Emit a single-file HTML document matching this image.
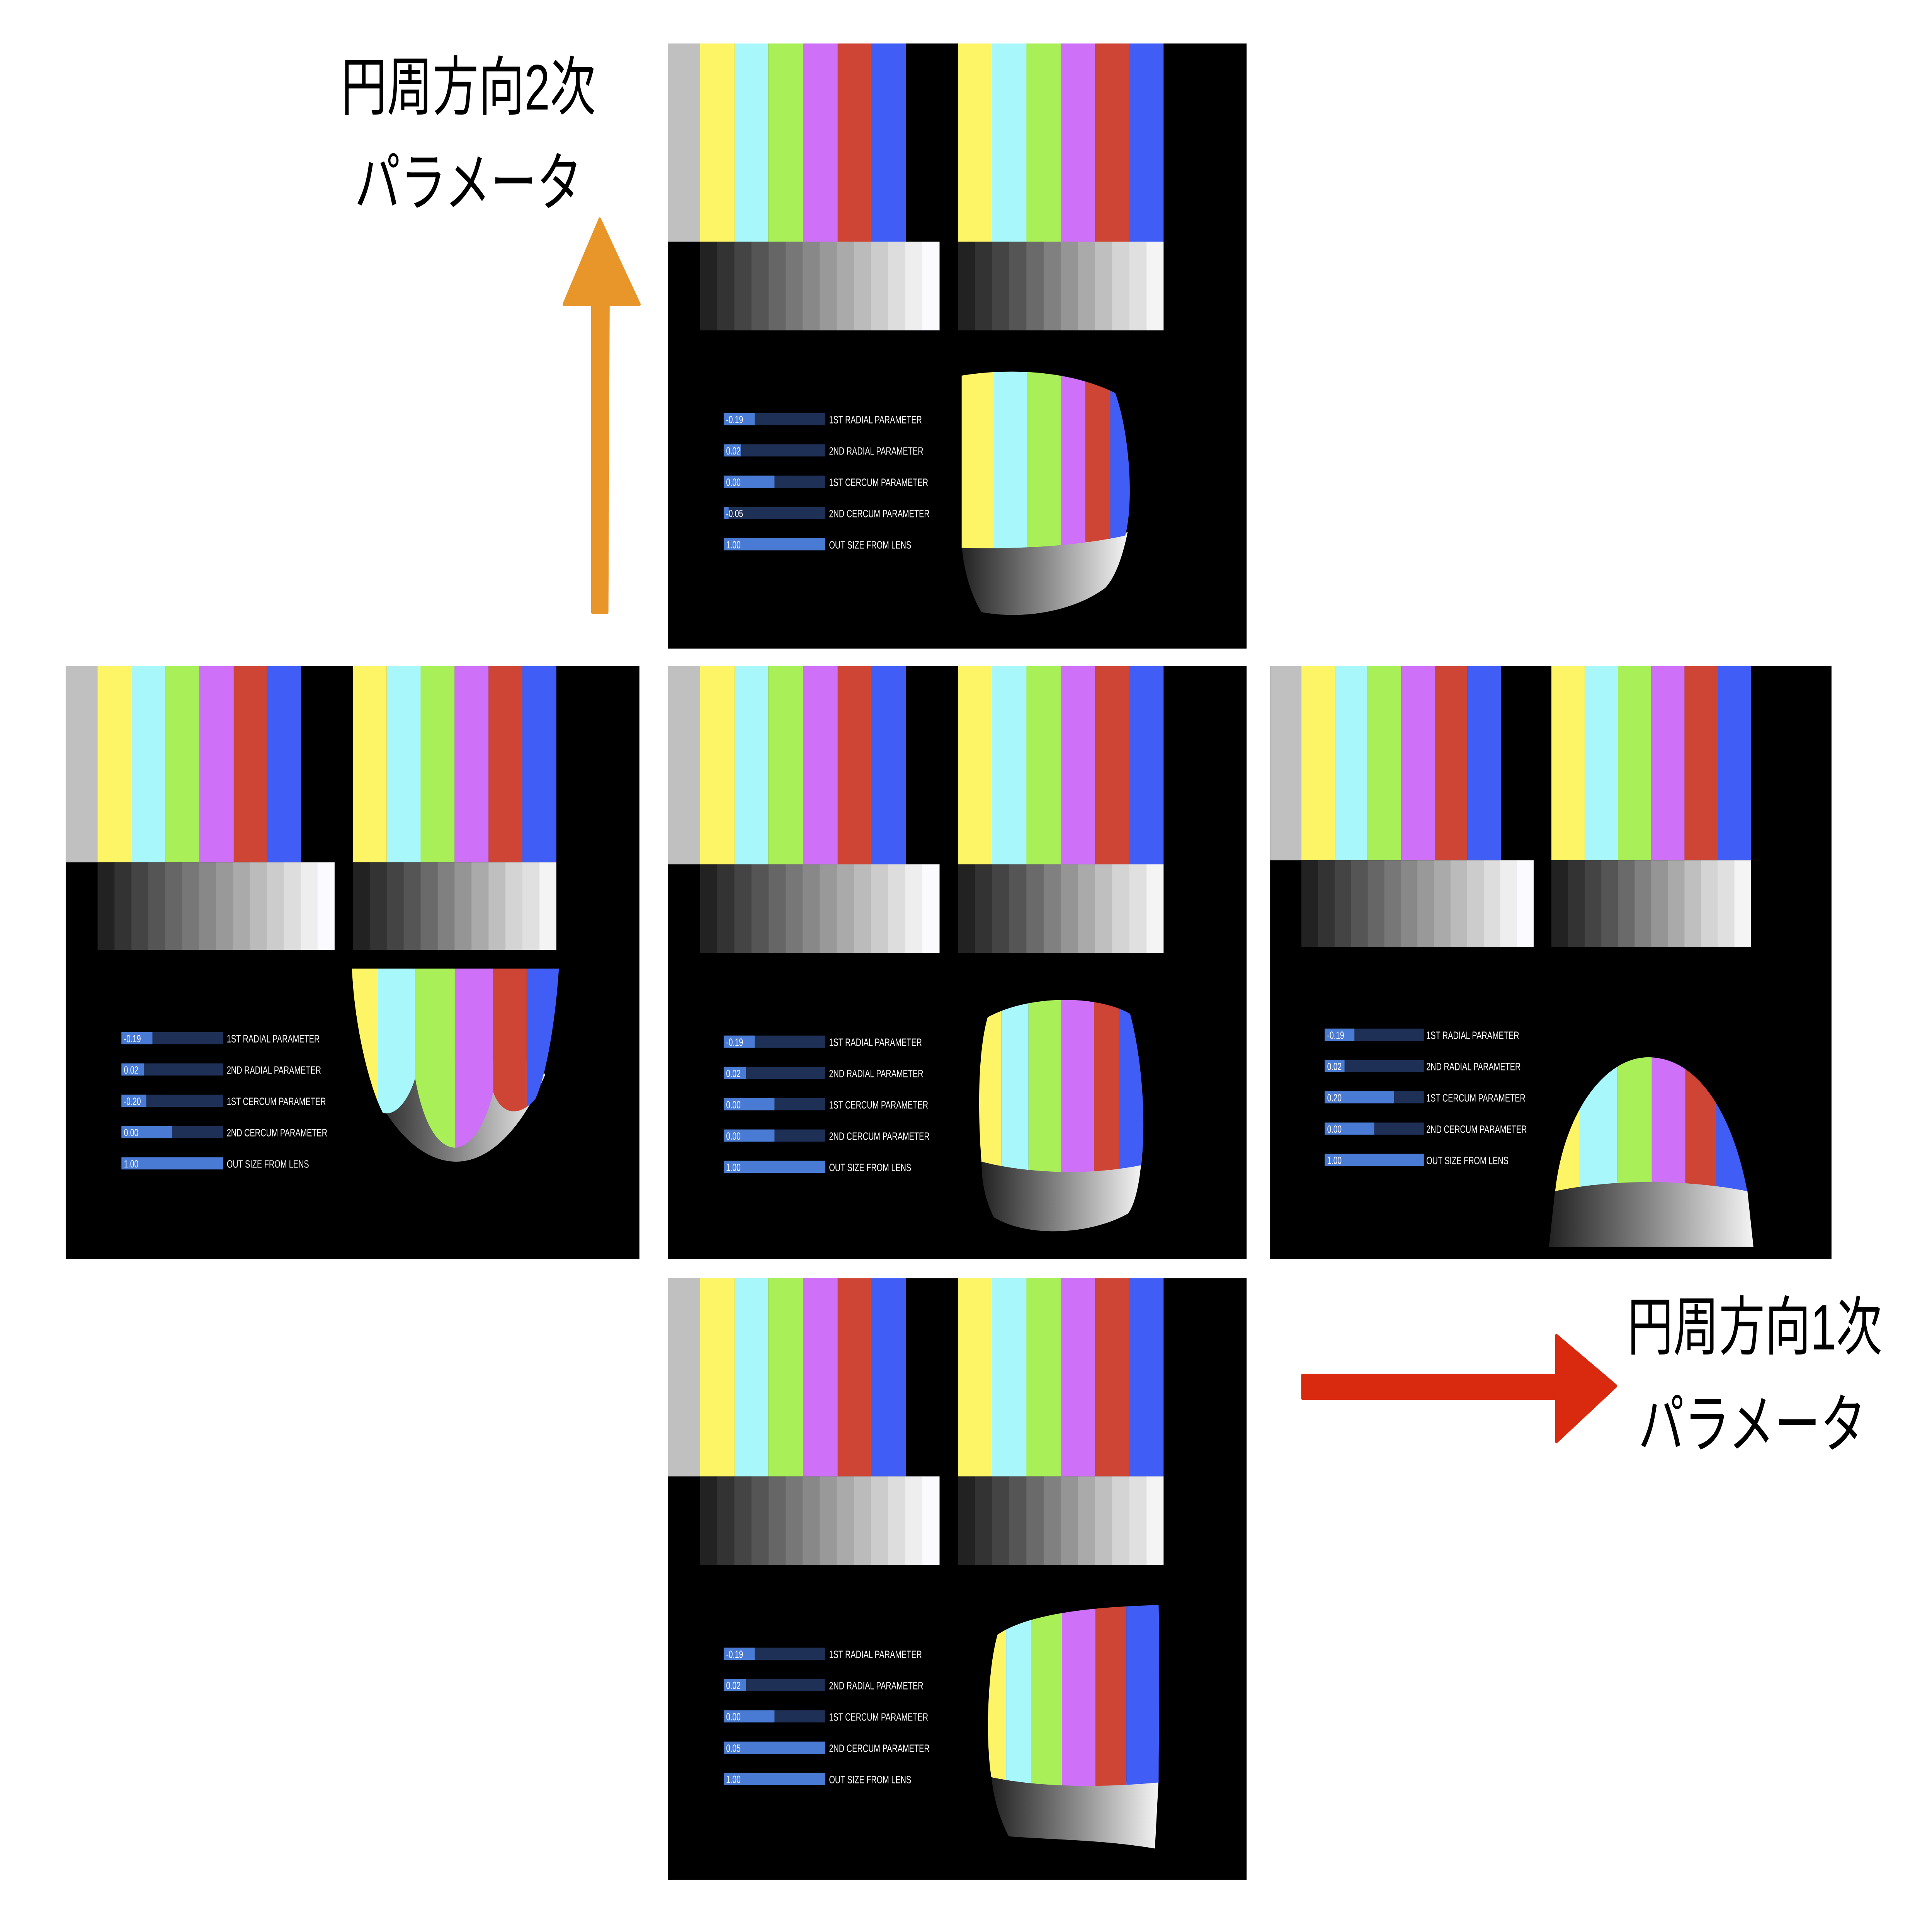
<!DOCTYPE html>
<html><head><meta charset="utf-8"><style>
html,body{margin:0;padding:0;background:#fff;overflow:hidden;width:100vw;height:100vh;}
svg{display:block;width:100vw;height:100vh;}
.v{font-family:"Liberation Sans Narrow","Liberation Sans",sans-serif;font-size:6px;fill:#fff;}
.l{font-family:"Liberation Sans Narrow","Liberation Sans",sans-serif;font-size:6.2px;fill:#fff;}
.jp{font-family:"Liberation Sans","Noto Sans CJK JP",sans-serif;font-size:37px;fill:#000;}
</style></head><body>
<svg viewBox="0 0 1559.1 1101.8" preserveAspectRatio="none" xmlns="http://www.w3.org/2000/svg">
<defs>
<g id="charts">
<rect x="0" y="0" width="26" height="114" fill="#c0c0c0"/>
<rect x="26" y="0" width="28" height="114" fill="#fdf566"/>
<rect x="54" y="0" width="27" height="114" fill="#a8f8fb"/>
<rect x="81" y="0" width="28" height="114" fill="#a9ef57"/>
<rect x="109" y="0" width="28" height="114" fill="#ce70f8"/>
<rect x="137" y="0" width="27" height="114" fill="#cf4535"/>
<rect x="164" y="0" width="28" height="114" fill="#405ef6"/>
<rect x="26" y="114" width="14" height="51" fill="#222"/>
<rect x="39.8" y="114" width="14" height="51" fill="#333"/>
<rect x="53.6" y="114" width="14" height="51" fill="#444"/>
<rect x="67.4" y="114" width="14" height="51" fill="#555"/>
<rect x="81.2" y="114" width="14" height="51" fill="#666"/>
<rect x="95" y="114" width="14" height="51" fill="#777"/>
<rect x="108.7" y="114" width="14" height="51" fill="#888"/>
<rect x="122.5" y="114" width="14" height="51" fill="#999"/>
<rect x="136.3" y="114" width="14" height="51" fill="#aaa"/>
<rect x="150.1" y="114" width="14" height="51" fill="#bbb"/>
<rect x="163.9" y="114" width="14" height="51" fill="#ccc"/>
<rect x="177.7" y="114" width="14" height="51" fill="#ddd"/>
<rect x="191.5" y="114" width="14" height="51" fill="#eee"/>
<rect x="205.3" y="114" width="13.9" height="51" fill="#fafaff"/>
<rect x="234" y="0" width="27.7" height="114" fill="#fdf566"/>
<rect x="261.7" y="0" width="27.7" height="114" fill="#a8f8fb"/>
<rect x="289.3" y="0" width="27.7" height="114" fill="#a9ef57"/>
<rect x="317" y="0" width="27.7" height="114" fill="#ce70f8"/>
<rect x="344.7" y="0" width="27.7" height="114" fill="#cf4535"/>
<rect x="372.3" y="0" width="27.7" height="114" fill="#405ef6"/>
<rect x="234" y="114" width="14" height="51" fill="#222"/>
<rect x="247.8" y="114" width="14" height="51" fill="#333"/>
<rect x="261.7" y="114" width="14" height="51" fill="#444"/>
<rect x="275.5" y="114" width="14" height="51" fill="#555"/>
<rect x="289.3" y="114" width="14" height="51" fill="#6a6a6a"/>
<rect x="303.2" y="114" width="14" height="51" fill="#808080"/>
<rect x="317" y="114" width="14" height="51" fill="#959595"/>
<rect x="330.8" y="114" width="14" height="51" fill="#aaa"/>
<rect x="344.7" y="114" width="14" height="51" fill="#bfbfbf"/>
<rect x="358.5" y="114" width="14" height="51" fill="#d4d4d4"/>
<rect x="372.3" y="114" width="14" height="51" fill="#e0e0e0"/>
<rect x="386.2" y="114" width="13.8" height="51" fill="#f4f4f4"/>
</g>
<linearGradient id="gg" x1="0" x2="1" y1="0" y2="0">
<stop offset="0" stop-color="#222"/><stop offset="0.5" stop-color="#888"/><stop offset="1" stop-color="#f4f4f4"/>
</linearGradient>
<clipPath id="cT"><path d="M776,216 C810,212 860,212 900,226 C912,250 915,290 908,308 C870,314 820,316 776,315 Z"/></clipPath>
<clipPath id="cC"><path d="M797,585 C830,572 885,572 912,583 C922,610 925,645 921,670 C880,676 830,675 792,668 C789,640 789,605 797,585 Z"/></clipPath>
<clipPath id="cL"><path d="M284,557 L451,557 C448,590 440,620 432,632 C420,642 405,642 398,628 C394,640 385,658 368,660 C350,660 340,640 335,620 C330,632 320,642 309,640 C298,625 286,590 284,557 Z"/></clipPath>
<clipPath id="cR"><path d="M1255,685 C1262,640 1295,608 1330,608 C1370,608 1398,640 1410,685 C1360,678 1300,678 1255,685 Z"/></clipPath>
<clipPath id="cB"><path d="M805,940 C830,928 880,924 935,923 C936,960 935,1000 935,1025 C890,1028 840,1028 800,1022 C795,1000 797,960 805,940 Z"/></clipPath>
</defs>

<rect x="0" y="0" width="1559.1" height="1101.8" fill="#fff"/>
<rect x="539" y="25" width="467" height="348" fill="#000"/>
<rect x="53" y="383" width="463" height="341" fill="#000"/>
<rect x="539" y="383" width="467" height="341" fill="#000"/>
<rect x="1025" y="383" width="453" height="341" fill="#000"/>
<rect x="539" y="735" width="467" height="346" fill="#000"/>

<use href="#charts" transform="translate(539,25)"/>
<use href="#charts" transform="translate(53,383) scale(0.99,0.99)"/>
<use href="#charts" transform="translate(539,383)"/>
<use href="#charts" transform="translate(1025,383) scale(0.97,0.98)"/>
<use href="#charts" transform="translate(539,735)"/>

<g transform="translate(539,25)">
<rect x="45" y="212.5" width="82" height="7" fill="#1f3057"/><rect x="45" y="212.5" width="25" height="7" fill="#4a7bd4"/><text class="v" x="47" y="218.3">-0.19</text><text class="l" x="130" y="218.5">1ST RADIAL PARAMETER</text>
<rect x="45" y="230.5" width="82" height="7" fill="#1f3057"/><rect x="45" y="230.5" width="14" height="7" fill="#4a7bd4"/><text class="v" x="47" y="236.3">0.02</text><text class="l" x="130" y="236.5">2ND RADIAL PARAMETER</text>
<rect x="45" y="248.5" width="82" height="7" fill="#1f3057"/><rect x="45" y="248.5" width="41" height="7" fill="#4a7bd4"/><text class="v" x="47" y="254.3">0.00</text><text class="l" x="130" y="254.5">1ST CERCUM PARAMETER</text>
<rect x="45" y="266.5" width="82" height="7" fill="#1f3057"/><rect x="45" y="266.5" width="4" height="7" fill="#4a7bd4"/><text class="v" x="47" y="272.3">-0.05</text><text class="l" x="130" y="272.5">2ND CERCUM PARAMETER</text>
<rect x="45" y="284.5" width="82" height="7" fill="#4a7bd4"/><text class="v" x="47" y="290.3">1.00</text><text class="l" x="130" y="290.5">OUT SIZE FROM LENS</text>
</g>
<g transform="translate(53,381)">
<rect x="45" y="212.5" width="82" height="7" fill="#1f3057"/><rect x="45" y="212.5" width="25" height="7" fill="#4a7bd4"/><text class="v" x="47" y="218.3">-0.19</text><text class="l" x="130" y="218.5">1ST RADIAL PARAMETER</text>
<rect x="45" y="230.5" width="82" height="7" fill="#1f3057"/><rect x="45" y="230.5" width="18" height="7" fill="#4a7bd4"/><text class="v" x="47" y="236.3">0.02</text><text class="l" x="130" y="236.5">2ND RADIAL PARAMETER</text>
<rect x="45" y="248.5" width="82" height="7" fill="#1f3057"/><rect x="45" y="248.5" width="20" height="7" fill="#4a7bd4"/><text class="v" x="47" y="254.3">-0.20</text><text class="l" x="130" y="254.5">1ST CERCUM PARAMETER</text>
<rect x="45" y="266.5" width="82" height="7" fill="#1f3057"/><rect x="45" y="266.5" width="41" height="7" fill="#4a7bd4"/><text class="v" x="47" y="272.3">0.00</text><text class="l" x="130" y="272.5">2ND CERCUM PARAMETER</text>
<rect x="45" y="284.5" width="82" height="7" fill="#4a7bd4"/><text class="v" x="47" y="290.3">1.00</text><text class="l" x="130" y="290.5">OUT SIZE FROM LENS</text>
</g>
<g transform="translate(539,383)">
<rect x="45" y="212.5" width="82" height="7" fill="#1f3057"/><rect x="45" y="212.5" width="25" height="7" fill="#4a7bd4"/><text class="v" x="47" y="218.3">-0.19</text><text class="l" x="130" y="218.5">1ST RADIAL PARAMETER</text>
<rect x="45" y="230.5" width="82" height="7" fill="#1f3057"/><rect x="45" y="230.5" width="18" height="7" fill="#4a7bd4"/><text class="v" x="47" y="236.3">0.02</text><text class="l" x="130" y="236.5">2ND RADIAL PARAMETER</text>
<rect x="45" y="248.5" width="82" height="7" fill="#1f3057"/><rect x="45" y="248.5" width="41" height="7" fill="#4a7bd4"/><text class="v" x="47" y="254.3">0.00</text><text class="l" x="130" y="254.5">1ST CERCUM PARAMETER</text>
<rect x="45" y="266.5" width="82" height="7" fill="#1f3057"/><rect x="45" y="266.5" width="41" height="7" fill="#4a7bd4"/><text class="v" x="47" y="272.3">0.00</text><text class="l" x="130" y="272.5">2ND CERCUM PARAMETER</text>
<rect x="45" y="284.5" width="82" height="7" fill="#4a7bd4"/><text class="v" x="47" y="290.3">1.00</text><text class="l" x="130" y="290.5">OUT SIZE FROM LENS</text>
</g>
<g transform="translate(1024,379)">
<rect x="45" y="212.5" width="80" height="7" fill="#1f3057"/><rect x="45" y="212.5" width="24" height="7" fill="#4a7bd4"/><text class="v" x="47" y="218.3">-0.19</text><text class="l" x="127" y="218.5">1ST RADIAL PARAMETER</text>
<rect x="45" y="230.5" width="80" height="7" fill="#1f3057"/><rect x="45" y="230.5" width="16" height="7" fill="#4a7bd4"/><text class="v" x="47" y="236.3">0.02</text><text class="l" x="127" y="236.5">2ND RADIAL PARAMETER</text>
<rect x="45" y="248.5" width="80" height="7" fill="#1f3057"/><rect x="45" y="248.5" width="56" height="7" fill="#4a7bd4"/><text class="v" x="47" y="254.3">0.20</text><text class="l" x="127" y="254.5">1ST CERCUM PARAMETER</text>
<rect x="45" y="266.5" width="80" height="7" fill="#1f3057"/><rect x="45" y="266.5" width="40" height="7" fill="#4a7bd4"/><text class="v" x="47" y="272.3">0.00</text><text class="l" x="127" y="272.5">2ND CERCUM PARAMETER</text>
<rect x="45" y="284.5" width="80" height="7" fill="#4a7bd4"/><text class="v" x="47" y="290.3">1.00</text><text class="l" x="127" y="290.5">OUT SIZE FROM LENS</text>
</g>
<g transform="translate(539,735)">
<rect x="45" y="212.5" width="82" height="7" fill="#1f3057"/><rect x="45" y="212.5" width="25" height="7" fill="#4a7bd4"/><text class="v" x="47" y="218.3">-0.19</text><text class="l" x="130" y="218.5">1ST RADIAL PARAMETER</text>
<rect x="45" y="230.5" width="82" height="7" fill="#1f3057"/><rect x="45" y="230.5" width="18" height="7" fill="#4a7bd4"/><text class="v" x="47" y="236.3">0.02</text><text class="l" x="130" y="236.5">2ND RADIAL PARAMETER</text>
<rect x="45" y="248.5" width="82" height="7" fill="#1f3057"/><rect x="45" y="248.5" width="41" height="7" fill="#4a7bd4"/><text class="v" x="47" y="254.3">0.00</text><text class="l" x="130" y="254.5">1ST CERCUM PARAMETER</text>
<rect x="45" y="266.5" width="82" height="7" fill="#4a7bd4"/><text class="v" x="47" y="272.3">0.05</text><text class="l" x="130" y="272.5">2ND CERCUM PARAMETER</text>
<rect x="45" y="284.5" width="82" height="7" fill="#4a7bd4"/><text class="v" x="47" y="290.3">1.00</text><text class="l" x="130" y="290.5">OUT SIZE FROM LENS</text>
</g>

<path d="M776,312 C820,316 870,314 910,306 C906,320 900,332 892,338 C870,350 830,357 792,352 C782,340 777,325 776,312 Z" fill="url(#gg)"/>
<g clip-path="url(#cT)">
<rect x="770" y="205" width="32" height="120" fill="#fdf566"/><rect x="802" y="205" width="27" height="120" fill="#a8f8fb"/><rect x="829" y="205" width="27" height="120" fill="#a9ef57"/><rect x="856" y="205" width="20" height="120" fill="#ce70f8"/><rect x="876" y="205" width="20" height="120" fill="#cf4535"/><rect x="896" y="205" width="25" height="120" fill="#405ef6"/>
</g>
<path d="M792,666 C830,673 880,674 921,668 C919,685 914,695 910,698 C880,710 830,712 802,700 C795,690 792,680 792,666 Z" fill="url(#gg)"/>
<g clip-path="url(#cC)">
<rect x="785" y="565" width="23" height="115" fill="#fdf566"/><rect x="808" y="565" width="22" height="115" fill="#a8f8fb"/><rect x="830" y="565" width="26" height="115" fill="#a9ef57"/><rect x="856" y="565" width="27" height="115" fill="#ce70f8"/><rect x="883" y="565" width="20" height="115" fill="#cf4535"/><rect x="903" y="565" width="25" height="115" fill="#405ef6"/>
</g>
<path d="M300,625 C320,655 345,668 368,668 C395,668 420,650 440,618 L432,610 L300,610 Z" fill="url(#gg)"/>
<g clip-path="url(#cL)">
<rect x="280" y="550" width="25" height="120" fill="#fdf566"/><rect x="305" y="550" width="30" height="120" fill="#a8f8fb"/><rect x="335" y="550" width="32" height="120" fill="#a9ef57"/><rect x="367" y="550" width="31" height="120" fill="#ce70f8"/><rect x="398" y="550" width="27" height="120" fill="#cf4535"/><rect x="425" y="550" width="30" height="120" fill="#405ef6"/>
</g>
<path d="M1255,684 C1300,677 1360,677 1410,684 L1415,717 L1250,717 Z" fill="url(#gg)"/>
<g clip-path="url(#cR)">
<rect x="1250" y="600" width="25" height="90" fill="#fdf566"/><rect x="1275" y="600" width="30" height="90" fill="#a8f8fb"/><rect x="1305" y="600" width="28" height="90" fill="#a9ef57"/><rect x="1333" y="600" width="27" height="90" fill="#ce70f8"/><rect x="1360" y="600" width="25" height="90" fill="#cf4535"/><rect x="1385" y="600" width="28" height="90" fill="#405ef6"/>
</g>
<path d="M800,1020 C840,1027 890,1027 935,1023 L932,1063 C890,1058 850,1058 814,1056 C806,1045 801,1032 800,1020 Z" fill="url(#gg)"/>
<g clip-path="url(#cB)">
<rect x="793" y="918" width="19" height="115" fill="#fdf566"/><rect x="812" y="918" width="20" height="115" fill="#a8f8fb"/><rect x="832" y="918" width="25" height="115" fill="#a9ef57"/><rect x="857" y="918" width="27" height="115" fill="#ce70f8"/><rect x="884" y="918" width="25" height="115" fill="#cf4535"/><rect x="909" y="918" width="30" height="115" fill="#405ef6"/>
</g>

<text class="jp" x="378" y="63" text-anchor="middle">円周方向2次</text>
<text class="jp" x="378" y="118" text-anchor="middle">パラメータ</text>
<text class="jp" x="1416" y="776" text-anchor="middle">円周方向1次</text>
<text class="jp" x="1414" y="832" text-anchor="middle">パラメータ</text>

<path d="M478,352 L478,175 L455,175 L484,126 L516,175 L491,175 L490,352 Z" fill="#e8962a" stroke="#e8962a" stroke-width="2" stroke-linejoin="round"/>
<path d="M1051,791 L1256,791 L1256,768 L1304,797 L1256,829 L1256,804 L1051,804 Z" fill="#d9290f" stroke="#d9290f" stroke-width="2" stroke-linejoin="round"/>
</svg>
</body></html>
